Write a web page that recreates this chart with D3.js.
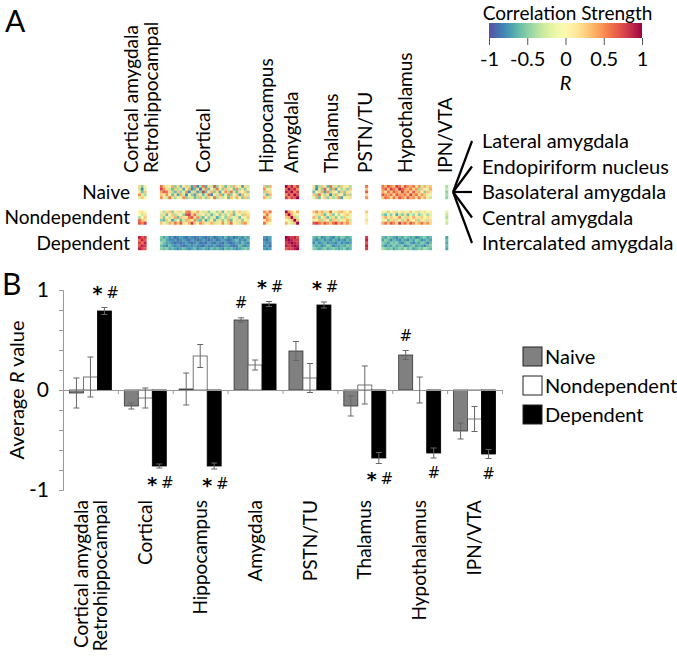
<!DOCTYPE html>
<html>
<head>
<meta charset="utf-8">
<script src="https://cdn.jsdelivr.net/npm/d3@7"></script>
<style>
  body { margin: 0; background: #fff; }
  text { font-family: Lato, "Open Sans", sans-serif; fill: #000; }
</style>
</head>
<body>
<div id="chart"></div>
<script>
// ---------------- data ----------------
var conditions = ["Naive", "Nondependent", "Dependent"];
var nuclei = ["Lateral amygdala", "Endopiriform nucleus", "Basolateral amygdala", "Central amygdala", "Intercalated amygdala"];

// panel A column groups, left to right
var heatGroups = [["Cortical amygdala", "Retrohippocampal"], ["Cortical"], ["Hippocampus"], ["Amygdala"],
                  ["Thalamus"], ["PSTN/TU"], ["Hypothalamus"], ["IPN/VTA"]];

// R per group: 5 rows (nuclei) x columns (regions in the group)
var naiveCells = [
  [[.2,-.5,.1],[-.3,-.8,-.2],[.1,-.6,.3],[.5,-.2,-.4],[-.2,.3,-.1]],
  [[.6,.3,-.2,.1,.4,-.5,.2,-.6,.1,.3,-.3,-.7,.5,-.8,-.4,.6,-.7,.2,-.3,.7,-.5,.1,.3,-.6,.2,-.4,.4,-.2,.1,-.7,.2,-.3],
   [.8,.5,.2,-.3,-.6,.3,-.4,.2,-.7,-.2,.4,-.8,-.6,.2,-.9,-.3,.5,-.6,.1,-.4,.6,-.2,-.5,.3,-.3,.1,-.6,.5,-.4,.2,-.5,.1],
   [.4,.7,.6,.2,-.4,-.6,.3,-.5,-.2,.5,-.8,-.3,.3,-.7,-.5,.8,-.6,-.2,.4,-.5,.2,-.7,.1,.5,-.4,.6,-.3,-.6,.2,-.1,.3,-.5],
   [.3,-.2,.5,.1,-.6,.2,-.7,.4,-.3,-.8,.1,-.5,-.7,.3,-.2,-.6,.2,.6,-.8,.1,-.3,.4,-.6,-.2,.5,-.5,.1,.3,-.7,.4,-.2,.2],
   [.5,.1,-.3,.6,.2,-.4,.1,-.2,.5,-.5,-.3,.2,-.6,-.4,.4,-.2,-.5,.3,-.1,.6,-.4,.2,-.3,.1,-.6,.3,-.2,.4,.1,-.5,.3,-.4]],
  [[.3,-.5,.4],[.5,.1,-.2],[-.4,.3,.2],[.2,-.6,.4],[.4,.2,-.3]],
  [[1,.6,.9,.5,.8],[.6,1,.7,.9,.5],[.9,.7,1,.6,.8],[.5,.9,.6,1,.7],[.8,.5,.8,.7,1]],
  [[.2,-.7,-.4,.3,.1,-.6,.6,-.3,.2,-.5,.3,-.2,.1,-.4],
   [-.3,-.8,.2,-.5,.7,-.2,-.6,.4,-.7,.1,-.4,.2,-.5,.3],
   [-.6,.1,-.3,.4,-.7,.5,-.4,.2,-.1,-.6,.3,-.5,.2,-.2],
   [.3,-.5,.6,-.2,-.4,.2,-.8,-.3,.4,-.2,.1,-.6,.3,-.4],
   [-.2,.4,-.6,.1,.3,-.5,.2,-.4,-.3,.5,-.7,.1,-.2,.2]],
  [[.6],[.3],[.7],[.2],[.5]],
  [[.6,.4,.7,.5,.3,.8,.6,.2,.7,.5,.4,.6,.1,.5,-.3,.4,.2,.3],
   [.5,.7,.3,.8,.6,.4,.9,.7,.5,.3,.6,.2,.5,-.4,.3,.1,-.2,.4],
   [.4,.2,.6,.3,.7,.5,.3,.8,.4,.6,.2,.7,.3,.4,.1,-.5,.3,.2],
   [.7,.5,.4,.6,.2,.7,.5,.4,.6,.3,.8,.4,.6,.2,.5,.3,-.2,.1],
   [.3,.6,.5,.2,.6,.3,.7,.5,.3,.7,.4,.5,.2,.6,.2,.4,.1,-.3]],
  [[-.4],[-.3],[-.5],[-.4],[-.5]]
];
var nondepCells = [
  [[.1,.2,-.1],[0,-.3,.2],[-.4,0,.3],[.6,.3,.2],[.7,.5,.8]],
  [[.1,-.4,.2,.3,-.5,.1,.2,-.3,.1,.5,.6,.2,-.2,.4,.1,-.3,.2,-.5,-.2,.1,-.4,.2,-.6,.1,-.3,.2,-.5,.1,.3,-.2,.2,-.1],
   [-.3,.2,-.6,.1,.3,-.4,.2,.1,-.5,.7,.8,.3,.6,-.3,.2,.1,-.4,.2,-.6,-.3,.1,-.5,.2,-.4,-.2,.3,-.6,-.2,.1,-.4,.3,.2],
   [.2,-.5,.1,-.3,.2,.4,-.6,.3,.2,-.2,.6,.7,.2,.5,-.4,-.6,.1,-.5,-.3,.2,-.7,-.4,.1,-.5,.3,-.3,-.2,.2,-.6,.1,-.2,.3],
   [-.5,-.6,.3,-.2,-.7,-.4,.1,-.6,-.3,.4,.3,-.2,.5,-.5,-.6,.2,-.7,-.4,.1,-.6,-.3,.2,-.5,-.2,.4,-.6,.1,-.3,.2,-.5,.1,-.2],
   [.3,.1,-.3,.4,.2,.6,.3,.7,.2,-.2,.4,.8,.3,.1,.5,.3,-.2,.2,.4,-.3,.2,.1,.5,-.2,.3,.6,-.1,.2,-.3,.4,.5,.1]],
  [[.5,.3,.6],[.2,.6,.1],[.7,.4,.2],[.1,.5,.3],[.6,.2,-.1]],
  [[1,.5,.3,-.1,.4],[.5,1,.4,-.2,.1],[.3,.4,1,.3,-.3],[-.1,-.2,.3,1,.3],[.4,.1,-.3,.3,1]],
  [[.3,.5,.2,.4,-.3,.2,.6,.1,-.2,.3,.4,.2,-.1,.3],
   [.1,-.3,.2,.3,-.6,-.2,.3,-.5,.1,-.4,-.1,.2,.3,-.2],
   [.4,.2,-.5,.1,.3,-.6,-.3,.2,-.5,.1,-.4,.3,-.2,.1],
   [-.2,.1,.3,-.4,.2,.1,-.5,.3,.2,-.3,.1,-.2,.4,-.3],
   [.7,.8,.6,.4,.7,.5,.3,.6,.8,.4,.6,.3,.5,.2]],
  [[.3],[.1],[-.1],[.2],[.1]],
  [[.1,-.2,.3,-.1,.2,-.3,.1,.2,-.2,.1,.3,-.1,.2,-.3,.1,.2,-.1,.1],
   [-.4,-.6,-.2,-.5,.1,-.7,-.3,-.5,.2,-.6,-.2,-.4,.1,-.5,-.3,.1,-.4,-.2],
   [.2,.4,.1,.3,-.2,.2,.5,.1,-.3,.3,.1,.4,-.2,.2,.3,-.1,.2,.1],
   [-.2,.1,-.5,.2,.3,-.3,.1,-.4,.2,.5,-.2,.1,.3,-.4,.1,.2,-.3,.2],
   [.4,.6,.3,.7,.5,.2,.8,.4,.6,.3,.7,.5,.2,.4,.6,.3,.5,.2]],
  [[-.2],[-.3],[-.4],[-.2],[-.3]]
];
var depCells = [
  [[.9,.7,.8],[.6,.9,.7],[.8,.6,.9],[.7,.9,.8],[.9,.8,.7]],
  [[-.5,-.7,-.6,-.8,-.7,-.9,-.8,-.7,-.8,-.9,-.7,-.8,-.9,-.8,-.7,-.8,-.9,-.8,-.7,-.9,-.8,-.7,-.8,-.6,-.8,-.7,-.9,-.8,-.7,-.8,-.6,-.7],
   [-.6,-.5,-.7,-.8,-.8,-.7,-.9,-.8,-.7,-.8,-.9,-.7,-.8,-.9,-.8,-.7,-.8,-.9,-.8,-.7,-.9,-.8,-.7,-.8,-.9,-.8,-.7,-.6,-.8,-.7,-.8,-.6],
   [-.4,-.6,-.7,-.7,-.8,-.9,-.8,-.9,-.8,-.7,-.8,-.9,-.8,-.7,-.9,-.8,-.9,-.7,-.8,-.9,-.7,-.8,-.9,-.7,-.8,-.9,-.8,-.7,-.8,-.6,-.7,-.8],
   [-.6,-.7,-.8,-.6,-.7,-.8,-.7,-.8,-.9,-.8,-.7,-.8,-.7,-.8,-.8,-.9,-.7,-.8,-.8,-.7,-.8,-.9,-.8,-.7,-.7,-.8,-.9,-.8,-.6,-.7,-.8,-.7],
   [-.5,-.6,-.5,-.7,-.6,-.7,-.8,-.7,-.6,-.7,-.8,-.7,-.6,-.8,-.7,-.6,-.7,-.8,-.6,-.7,-.6,-.7,-.8,-.6,-.7,-.6,-.7,-.8,-.7,-.6,-.5,-.6]],
  [[-.7,-.8,-.7],[-.8,-.9,-.7],[-.7,-.8,-.8],[-.8,-.7,-.9],[-.7,-.8,-.7]],
  [[1,.9,.8,.9,.7],[.9,1,.9,.8,.8],[.8,.9,1,.9,.8],[.9,.8,.9,1,.9],[.7,.8,.8,.9,1]],
  [[-.6,-.7,-.5,-.8,-.7,-.6,-.7,-.8,-.6,-.7,-.5,-.6,-.7,-.6],
   [-.7,-.8,-.7,-.6,-.8,-.7,-.8,-.6,-.7,-.8,-.7,-.8,-.6,-.7],
   [-.8,-.6,-.8,-.7,-.6,-.8,-.7,-.7,-.8,-.6,-.8,-.7,-.8,-.7],
   [-.6,-.7,-.6,-.8,-.7,-.5,-.6,-.8,-.7,-.7,-.6,-.7,-.5,-.6],
   [-.5,-.6,-.7,-.6,-.5,-.7,-.6,-.5,-.6,-.7,-.6,-.5,-.7,-.6]],
  [[.8],[.9],[.7],[.9],[.8]],
  [[-.6,-.7,-.5,-.6,-.7,-.8,-.6,-.7,-.5,-.6,-.7,-.6,-.8,-.7,-.6,-.5,-.7,-.6],
   [-.7,-.5,-.6,-.8,-.6,-.7,-.8,-.6,-.7,-.8,-.6,-.7,-.5,-.6,-.8,-.7,-.6,-.7],
   [-.5,-.6,-.7,-.5,-.6,-.5,-.7,-.8,-.6,-.5,-.7,-.8,-.6,-.7,-.5,-.6,-.8,-.6],
   [-.6,-.8,-.6,-.7,-.5,-.7,-.6,-.5,-.8,-.7,-.6,-.5,-.7,-.6,-.7,-.8,-.6,-.5],
   [-.4,-.5,-.6,-.5,-.7,-.6,-.5,-.6,-.4,-.6,-.5,-.7,-.6,-.5,-.6,-.4,-.5,-.6]],
  [[-.7],[-.6],[-.7],[-.6],[-.7]]
];
var colorTicks = [-1, -0.5, 0, 0.5, 1];

// panel B
var barGroups = [["Cortical amygdala", "Retrohippocampal"], ["Cortical"], ["Hippocampus"], ["Amygdala"],
                 ["PSTN/TU"], ["Thalamus"], ["Hypothalamus"], ["IPN/VTA"]];
var naiveMean  = [-0.03, -0.16, 0.01, 0.70, 0.39, -0.16, 0.35, -0.41];
var naiveErr   = [0.15, 0.03, 0.16, 0.022, 0.095, 0.10, 0.045, 0.08];
var nondepMean = [0.13, -0.08, 0.34, 0.25, 0.12, 0.05, 0.00, -0.29];
var nondepErr  = [0.20, 0.10, 0.115, 0.05, 0.145, 0.19, 0.13, 0.125];
var depMean    = [0.79, -0.76, -0.76, 0.86, 0.85, -0.68, -0.63, -0.64];
var depErr     = [0.035, 0.02, 0.03, 0.025, 0.03, 0.055, 0.05, 0.045];
// [group index, condition index, symbols]
var sigMarks = [[0,2,"*#"],[1,2,"*#"],[2,2,"*#"],[3,0,"#"],[3,2,"*#"],[4,2,"*#"],
                [5,2,"*#"],[6,0,"#"],[6,2,"#"],[7,2,"#"]];
var yTicks = [-1, -0.8, -0.6, -0.4, -0.2, 0, 0.2, 0.4, 0.6, 0.8, 1];

// ---------------- drawing ----------------
var W = 677, H = 662;
var svg = d3.select("#chart").append("svg")
    .attr("width", W).attr("height", H)
    .style("background", "#fff");

var rColor = function(v) { return d3.interpolateSpectral((1 - v) / 2); };

// panel letters
svg.append("text").attr("x", 5).attr("y", 32).style("font-size", "30px").text("A");
svg.append("text").attr("x", 2).attr("y", 295).style("font-size", "30px").text("B");

// ---- colour bar ----
var cx = d3.scaleLinear().domain([-1, 1]).range([489, 642]);
var grad = svg.append("defs").append("linearGradient").attr("id", "rgrad");
grad.selectAll("stop")
  .data(d3.range(0, 1.0001, 0.05))
  .enter().append("stop")
    .attr("offset", function(d) { return d; })
    .attr("stop-color", function(d) { return rColor(d * 2 - 1); });
svg.append("rect")
    .attr("x", cx(-1)).attr("y", 23)
    .attr("width", cx(1) - cx(-1)).attr("height", 15)
    .attr("fill", "url(#rgrad)");
var cbAxis = svg.append("g")
    .attr("transform", "translate(0,38)")
    .call(d3.axisBottom(cx).tickValues(colorTicks).tickSize(7).tickFormat(function(d) { return String(d); }));
cbAxis.select(".domain").remove();
cbAxis.selectAll("line").attr("stroke", "#555");
cbAxis.selectAll("text").style("font-size", "20px").attr("y", 14).attr("dy", "0.71em")
    .style("font-family", "Lato, sans-serif");
svg.append("text").attr("x", (cx(-1) + cx(1)) / 2 + 2).attr("y", 20)
    .attr("text-anchor", "middle").style("font-size", "19px").text("Correlation Strength");
svg.append("text").attr("x", cx(0)).attr("y", 90)
    .attr("text-anchor", "middle").style("font-size", "20px").style("font-style", "italic").text("R");

// ---- heat map ----
var cw = 2.8, ch = 2.8, gap = 13.5, heatX0 = 138;
var colCounts = naiveCells.map(function(b) { return b[0].length; });
var blockX = [];
var acc = 0;
colCounts.forEach(function(n, i) { blockX.push(heatX0 + acc * cw + i * gap); acc += n; });
var bandY = d3.scalePoint().domain(conditions).range([185, 236]);

var cells = [];
[naiveCells, nondepCells, depCells].forEach(function(cond, ci) {
  cond.forEach(function(block, gi) {
    block.forEach(function(row, ri) {
      row.forEach(function(v, ki) {
        cells.push({c: conditions[ci], g: gi, r: ri, k: ki, v: v});
      });
    });
  });
});
svg.append("g").selectAll("rect")
  .data(cells)
  .enter().append("rect")
    .attr("x", function(d) { return blockX[d.g] + d.k * cw; })
    .attr("y", function(d) { return bandY(d.c) + d.r * ch; })
    .attr("width", cw + 0.2).attr("height", ch + 0.2)
    .attr("fill", function(d) { return rColor(d.v); });

// row labels
svg.append("g").selectAll("text")
  .data(conditions)
  .enter().append("text")
    .attr("x", 130)
    .attr("y", function(d) { return bandY(d) + 5 * ch / 2; })
    .attr("dy", "0.35em")
    .attr("text-anchor", "end")
    .style("font-size", "19px")
    .text(function(d) { return d; });

// column labels (rotated)
heatGroups.forEach(function(names, gi) {
  var mid = blockX[gi] + colCounts[gi] * cw / 2;
  names.forEach(function(name, j) {
    var x = mid + (names.length > 1 ? (j - 0.5) * 20 : 0) - 1;
    svg.append("text")
      .attr("transform", "translate(" + x + ",173) rotate(-90)")
      .attr("dy", "0.35em")
      .style("font-size", "19px")
      .text(name);
  });
});

// amygdala nuclei fan
var nucY = d3.scalePoint().domain(nuclei).range([141, 243]);
var tipX = blockX[7] + cw + 5, tipY = nucY(nuclei[2]);
svg.append("g").selectAll("line")
  .data(nuclei)
  .enter().append("line")
    .attr("x1", tipX).attr("y1", tipY)
    .attr("x2", 472).attr("y2", function(d) { return nucY(d); })
    .attr("stroke", "#000").attr("stroke-width", 2.2);
svg.append("g").selectAll("text")
  .data(nuclei)
  .enter().append("text")
    .attr("x", 482).attr("y", function(d) { return nucY(d); })
    .attr("dy", "0.35em")
    .style("font-size", "20px")
    .text(function(d) { return d; });

// ---- panel B bar chart ----
var y = d3.scaleLinear().domain([-1, 1]).range([490, 290]);
var gx = d3.scaleBand().domain(d3.range(barGroups.length)).range([63, 502]);
var bx = d3.scaleBand().domain(d3.range(3)).range([0, gx.bandwidth()]).paddingOuter(0.46);

var means = [naiveMean, nondepMean, depMean];
var errs = [naiveErr, nondepErr, depErr];
var fills = ["#808080", "#ffffff", "#000000"];
var strokes = ["#333", "#555", "#000"];

var bars = [];
barGroups.forEach(function(g, gi) {
  conditions.forEach(function(c, ci) {
    bars.push({g: gi, c: ci, v: means[ci][gi], e: errs[ci][gi]});
  });
});

// y axis
var yAxis = svg.append("g")
    .attr("transform", "translate(63,0)")
    .call(d3.axisLeft(y).tickValues(yTicks).tickSize(4).tickPadding(10)
      .tickFormat(function(d) { return Math.abs(d - Math.round(d)) < 1e-6 ? String(Math.round(d)) : ""; }));
yAxis.select(".domain").attr("stroke", "#999");
yAxis.selectAll("line").attr("stroke", "#999");
yAxis.selectAll("text").style("font-size", "21px").style("font-family", "Lato, sans-serif");

svg.append("text")
    .attr("transform", "translate(24," + y(0) + ") rotate(-90)")
    .attr("text-anchor", "middle")
    .style("font-size", "20px")
    .call(function(t) {
      t.append("tspan").text("Average ");
      t.append("tspan").style("font-style", "italic").text("R");
      t.append("tspan").text(" value");
    });

// bars
svg.append("g").selectAll("rect")
  .data(bars)
  .enter().append("rect")
    .attr("x", function(d) { return gx(d.g) + bx(d.c); })
    .attr("y", function(d) { return y(Math.max(0, d.v)); })
    .attr("width", bx.bandwidth())
    .attr("height", function(d) { return Math.abs(y(d.v) - y(0)); })
    .attr("fill", function(d) { return fills[d.c]; })
    .attr("stroke", function(d) { return strokes[d.c]; })
    .attr("stroke-width", 0.8);

// zero line with category ticks
var zx = d3.scaleLinear().domain([0, barGroups.length]).range([63, 502]);
var zAxis = svg.append("g")
    .attr("transform", "translate(0," + y(0) + ")")
    .call(d3.axisBottom(zx).ticks(barGroups.length).tickSize(4).tickSizeOuter(0).tickFormat(""));
zAxis.select(".domain").attr("stroke", "#999");
zAxis.selectAll("line").attr("stroke", "#999");

// error bars
var eb = svg.append("g").attr("stroke", "#666").attr("stroke-width", 1);
bars.forEach(function(d) {
  var cxm = gx(d.g) + bx(d.c) + bx.bandwidth() / 2;
  eb.append("line").attr("x1", cxm).attr("x2", cxm).attr("y1", y(d.v + d.e)).attr("y2", y(d.v - d.e));
  eb.append("line").attr("x1", cxm - 3).attr("x2", cxm + 3).attr("y1", y(d.v + d.e)).attr("y2", y(d.v + d.e));
  eb.append("line").attr("x1", cxm - 3).attr("x2", cxm + 3).attr("y1", y(d.v - d.e)).attr("y2", y(d.v - d.e));
});

// significance marks
sigMarks.forEach(function(m) {
  var gi = m[0], ci = m[1], s = m[2];
  var v = means[ci][gi], e = errs[ci][gi];
  var cxm = gx(gi) + bx(ci) + bx.bandwidth() / 2;
  var yy = v >= 0 ? y(v + e + 0.15) : y(v - e - 0.15);
  var syms = s.split("");
  syms.forEach(function(ch, j) {
    var off = syms.length > 1 ? (j === 0 ? -7 : 8) : 0;
    svg.append("text")
      .attr("x", cxm + off).attr("y", yy + (ch === "*" ? 1 : 0))
      .attr("dy", "0.35em")
      .attr("text-anchor", "middle")
      .style("font-size", ch === "*" ? "19px" : "15px")
      .style("font-weight", ch === "*" ? "bold" : "normal")
      .style("font-family", "'DejaVu Sans', sans-serif")
      .text(ch);
  });
});

// bottom category labels
barGroups.forEach(function(names, gi) {
  var mid = gx(gi) + gx.bandwidth() / 2;
  names.forEach(function(name, j) {
    var x = mid + (names.length > 1 ? (j - 0.5) * 19 : 0);
    svg.append("text")
      .attr("transform", "translate(" + x + ",500) rotate(-90)")
      .attr("dy", "0.35em")
      .attr("text-anchor", "end")
      .style("font-size", "19px")
      .text(name);
  });
});

// legend
var lg = svg.append("g").attr("transform", "translate(523,347)");
conditions.forEach(function(c, ci) {
  lg.append("rect").attr("x", 0).attr("y", ci * 29).attr("width", 19).attr("height", 19)
    .attr("fill", fills[ci]).attr("stroke", "#222").attr("stroke-width", 1);
  lg.append("text").attr("x", 22).attr("y", ci * 29 + 10).attr("dy", "0.35em")
    .style("font-size", "20px").text(c);
});
</script>
</body>
</html>
